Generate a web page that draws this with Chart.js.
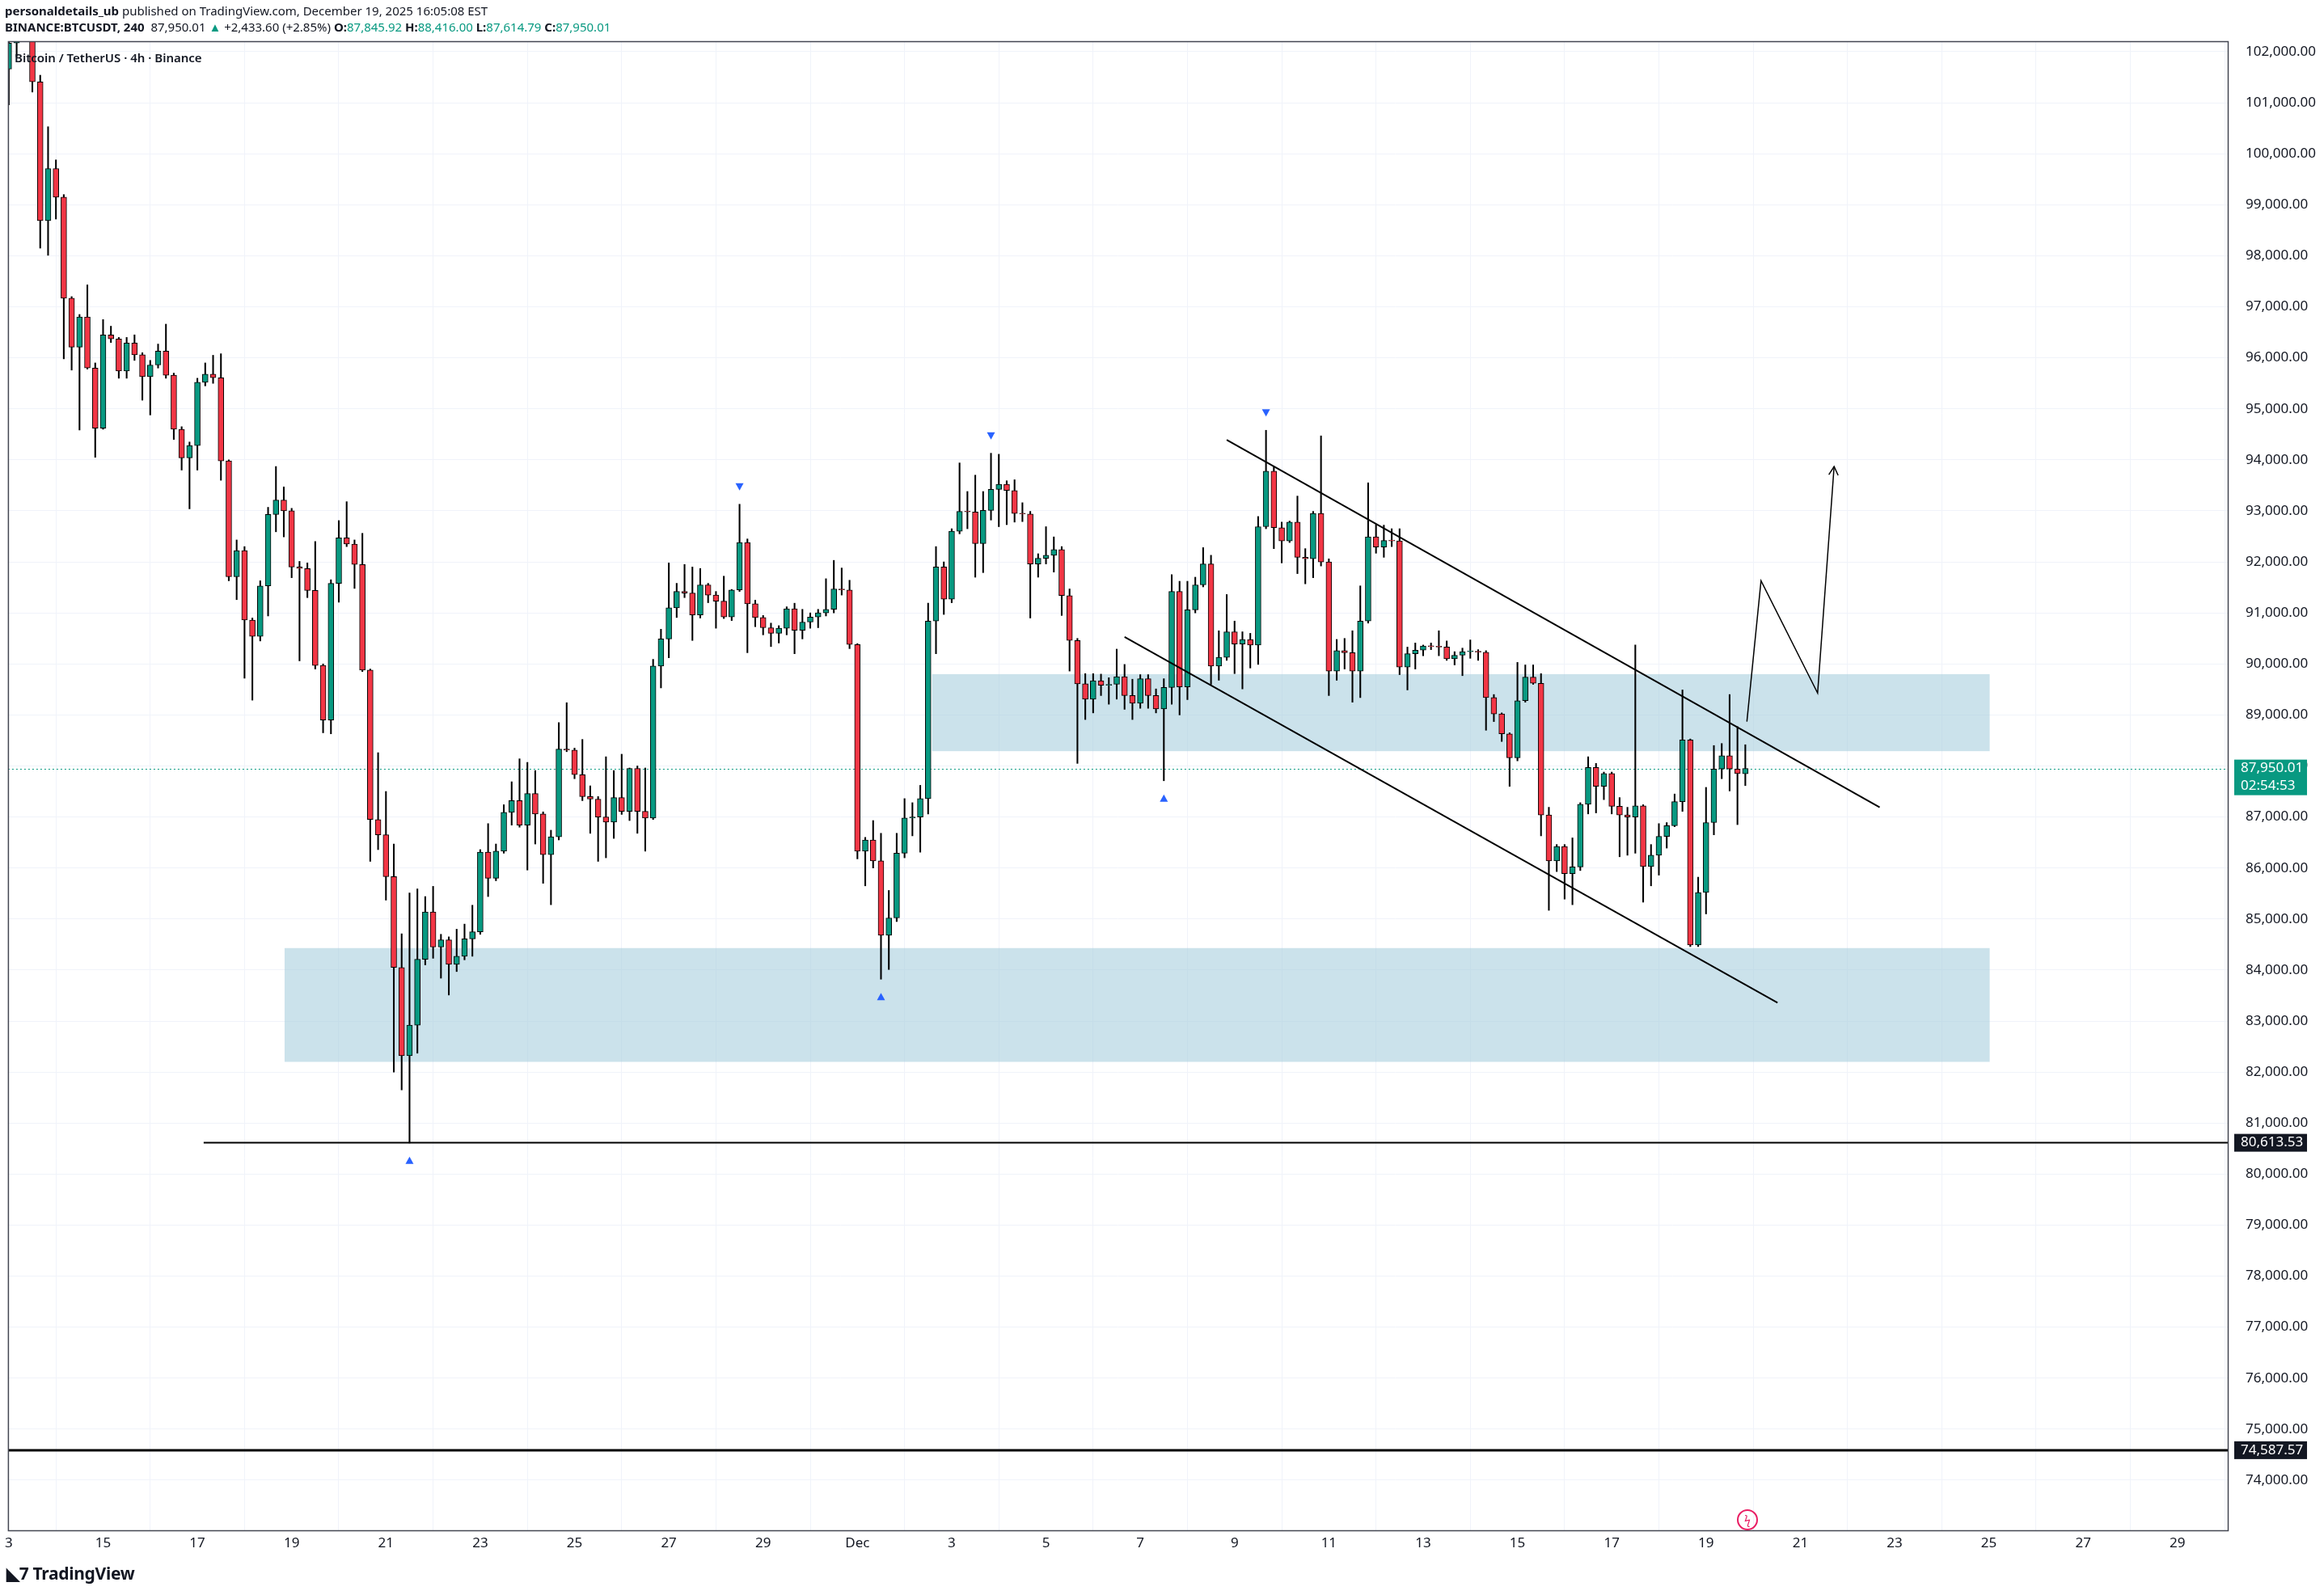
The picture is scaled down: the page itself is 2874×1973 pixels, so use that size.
<!DOCTYPE html>
<html>
<head>
<meta charset="utf-8">
<script src="https://cdn.jsdelivr.net/npm/chart.js@4.4.1/dist/chart.umd.min.js"></script>
<style>
body{margin:0;background:#fff;width:2874px;height:1973px;overflow:hidden;font-family:"Noto Sans",sans-serif;position:relative;color:#131722}
#c{position:absolute;left:0;top:0}
.t{position:absolute;white-space:nowrap;font-size:15px;line-height:20px}
b{font-weight:700}
.g{color:#089981}
</style>
</head>
<body>
<canvas id="c" width="2874" height="1973"></canvas>
<div class="t" style="left:6px;top:3px"><b>personaldetails_ub</b> published on TradingView.com, December 19, 2025 16:05:08 EST</div>
<div class="t" style="left:6px;top:23px"><b>BINANCE:BTCUSDT, 240</b>&nbsp; 87,950.01 <span class="g">▲</span> +2,433.60 (+2.85%) <b>O:</b><span class="g">87,845.92</span> <b>H:</b><span class="g">88,416.00</span> <b>L:</b><span class="g">87,614.79</span> <b>C:</b><span class="g">87,950.01</span></div>
<div class="t" style="left:18px;top:61px;font-size:15px;font-weight:600">Bitcoin / TetherUS · 4h · Binance</div>
<div class="t" style="left:8px;top:1936px;font-size:21px;font-weight:700;letter-spacing:-0.3px">◣7 TradingView</div>
<div class="t" style="left:2148px;top:1867px;width:22px;height:22px;border:2px solid #e91e63;border-radius:50%;font-size:14px;line-height:22px;text-align:center;color:#e91e63">ϟ</div>
<script>
// 4h candles from Nov 13 00:00, six per day
const opens = [
  101660,102170,102280,102700,101410,98690, 99710,99150,97170,96210,96800,95800,
  94620,96450,96370,95740,96290,96060, 95630,95860,96130,95660,94600,94040,
  94280,95520,95680,95610,93980,91710, 92220,90860,90540,91530,92930,93210,
  93000,91900,91870,91440,89970,88900, 91580,92470,92350,91950,89880,86950,
  86650,85830,84050,82320,82920,84210, 85140,84450,84590,84110,84270,84610,
  84750,86310,85800,86330,87090,87320, 86840,87460,87060,86260,86610,88330,
  88310,87830,87400,87350,87000,86900, 87380,87110,87950,87110,86980,89960,
  90490,91100,91420,91390,90960,91550, 91350,91230,90920,91450,92380,91180,
  90910,90710,90600,90700,91080,90660, 90820,90920,91000,91070,91470,91450,
  90380,86330,86550,86140,84680,85020, 86290,86980,87000,87360,90840,91900,
  91270,92600,92990,92980,92360,93010, 93420,93520,93400,92950,92940,91960,
  92070,92130,92240,91340,90460,89610, 89310,89670,89580,89600,89750,89380,
  89230,89710,89380,89120,89540,91420, 89550,91060,91550,91960,89960,90130,
  90630,90390,90480,90370,92690,93780, 92670,92410,92780,92090,92060,92950,
  92000,89860,90260,90220,89860,90840, 92490,92290,92420,92410,89940,90200,
  90270,90350,90340,90330,90100,90170, 90240,90250,90230,89340,89020,88630,
  88160,89280,89740,89620,87040,86140, 86420,85890,86020,87250,87970,87600,
  87850,87210,87040,87000,87220,86030, 86250,86620,86830,87300,88510,84490,
  85520,86890,87940,88200,87940,87845.92
];
const highs = [
  102300,102500,102900,102800,101540,100530, 99880,99200,97200,96850,97430,95900,
  96750,96620,96400,96400,96450,96100, 95950,96270,96660,95700,94650,94350,
  95600,95900,96050,96080,94000,92430, 92300,90900,91630,93070,93870,93470,
  93050,92010,91980,92400,90000,91650, 92810,93180,92430,92560,89900,88260,
  87500,86470,84710,85510,85590,85440, 85640,84700,84650,84800,84900,85270,
  86360,86870,86470,87240,87690,88140, 88070,87910,87100,86740,88850,89240,
  88350,88520,87610,87400,88180,87910, 88230,87960,88000,87960,90090,90680,
  91980,91580,91950,91900,91870,91580, 91420,91720,91460,93130,92450,91250,
  90950,90800,90750,91120,91190,91070, 91000,91070,91670,92030,91880,91640,
  90400,86600,86930,86680,85560,86680, 87360,87280,87620,91190,92300,92000,
  92650,93940,93380,93700,93380,94130, 94110,93590,93610,93160,92990,92160,
  92690,92490,92300,91470,90500,89810, 89810,89800,89730,90290,89990,89700,
  89790,89790,89510,89710,91750,91620, 91620,91700,92280,92130,90650,91360,
  90840,90630,90600,92890,94580,93870, 92780,92800,93290,92260,92990,94470,
  92060,90480,90500,90650,91530,93550, 92730,92720,92650,92650,90330,90410,
  90370,90410,90650,90450,90240,90310, 90470,90280,90260,89400,89040,88650,
  90030,89980,89980,89810,87190,86460, 86460,86590,87280,88180,88050,87880,
  87880,87380,87190,90370,87240,86460, 86870,86890,87450,89490,88530,85820,
  87580,88400,88440,89400,88770,88416
];
const lows = [
  100960,101900,102200,101210,98150,98010, 98720,95980,95760,94585,95780,94050,
  94600,96300,95600,95600,95950,95170, 94880,95800,95600,94400,93800,93040,
  93800,95450,95500,93600,91630,91260, 89720,89290,90450,90940,92590,92490,
  91690,90060,91300,89900,88650,88630, 91210,92300,91480,89850,86130,86360,
  85370,82000,81650,80610,82370,84100, 84230,83840,83510,83970,84200,84270,
  84700,85440,85750,86290,86840,86800, 85960,86470,85700,85280,86550,88280,
  87750,87320,86680,86130,86200,86580, 87050,86930,86680,86330,86950,89530,
  90120,90910,91300,90460,90900,91200, 90700,90890,90850,91420,90220,90730,
  90570,90340,90410,90570,90200,90490, 90700,90710,90940,91000,91350,90300,
  86180,85650,86000,83820,84010,84950, 86200,86630,86310,87060,90200,90970,
  91200,92550,92650,91700,91790,92820, 92690,92730,92780,92790,90900,91700,
  91960,91800,90950,89860,88050,88910, 89040,89380,89210,89310,89110,88910,
  89130,89130,89040,87710,89210,89000, 89300,91000,91510,89600,89680,90070,
  89810,89510,89920,89990,92650,92260, 91980,92380,91770,91570,91690,91920,
  89380,89680,89900,89250,89340,90800, 92170,92090,92300,89790,89490,89900,
  90160,90280,90160,90070,89980,89770, 90110,90070,88700,88870,88480,87600,
  88100,89250,89600,86630,85170,85930, 85390,85280,85950,87060,87080,87340,
  87060,86220,86250,86290,85330,85650, 85860,86390,86810,87110,84460,84460,
  85100,86650,87750,87510,86850,87614.79
];
const closes = [
  102170,102280,102700,101410,98690,99710, 99150,97170,96210,96800,95800,94620,
  96450,96370,95740,96290,96060,95630, 95860,96130,95660,94600,94040,94280,
  95520,95680,95610,93980,91710,92220, 90860,90540,91530,92930,93210,93000,
  91900,91870,91440,89970,88900,91580, 92470,92350,91950,89880,86950,86650,
  85830,84050,82320,82920,84210,85140, 84450,84590,84110,84270,84610,84750,
  86310,85800,86330,87090,87320,86840, 87460,87060,86260,86610,88330,88310,
  87830,87400,87350,87000,86900,87380, 87110,87950,87110,86980,89960,90490,
  91100,91420,91390,90960,91550,91350, 91230,90920,91450,92380,91180,90910,
  90710,90600,90700,91080,90660,90820, 90920,91000,91070,91470,91450,90380,
  86330,86550,86140,84680,85020,86290, 86980,87000,87360,90840,91900,91270,
  92600,92990,92980,92360,93010,93420, 93520,93400,92950,92940,91960,92070,
  92130,92240,91340,90460,89610,89310, 89670,89580,89600,89750,89380,89230,
  89710,89380,89120,89540,91420,89550, 91060,91550,91960,89960,90130,90630,
  90390,90480,90370,92690,93780,92670, 92410,92780,92090,92060,92950,92000,
  89860,90260,90220,89860,90840,92490, 92290,92420,92410,89940,90200,90270,
  90350,90340,90330,90100,90170,90240, 90250,90230,89340,89020,88630,88160,
  89280,89740,89620,87040,86140,86420, 85890,86020,87250,87970,87600,87850,
  87210,87040,87000,87220,86030,86250, 86620,86830,87300,88510,84490,85520,
  86890,87940,88200,87940,87850,87950.01
];

const yTicks = [74000,75000,76000,77000,78000,79000,80000,81000,82000,83000,84000,85000,86000,87000,
  88000,89000,90000,91000,92000,93000,94000,95000,96000,97000,98000,99000,100000,101000,102000];
const dayTicks = [0,12,24,36,48,60,72,84,96,108,120,132,144,156,168,180,192,204,216,228,240,252,264,276];
const dayLabels = ['3','15','17','19','21','23','25','27','29','Dec','3','5','7','9','11','13','15','17','19','21','23','25','27','29'];

// drawings (x in candle slots, y in price)
const zones = [[117.5, 252.1, 88290, 89800], [35.1, 252.1, 82200, 84430]];
const upperTrend = [[155.0, 94390], [238.1, 87190]];
const lowerTrend = [[142.0, 90530], [225.1, 83360]];
const projection = [[221.2, 88870], [223.0, 91630], [230.2, 89430], [232.3, 93870]];
const supportLevel = 80613.53, lowLevel = 74587.57, lastPrice = 87950.01;
const supportStart = 24.8;
const pivotHighs = [93, 125, 160];
const pivotLows = [51, 111, 147];

const GREEN = '#089981', RED = '#f23645';
const idx = opens.map((_, i) => i);
const bodyColors = idx.map(i => closes[i] >= opens[i] ? GREEN : RED);
const fmt = v => v.toLocaleString('en-US', {minimumFractionDigits: 2, maximumFractionDigits: 2});
const pts = a => a.map(p => ({x: p[0], y: p[1]}));

const overlay = {
  id: 'overlay',
  beforeDatasetsDraw(chart) {
    const {ctx, chartArea: a, scales: {x, y}} = chart;
    ctx.save();
    ctx.beginPath(); ctx.rect(a.left, a.top, a.width, a.height); ctx.clip();
    ctx.fillStyle = 'rgba(166,205,220,0.58)';
    zones.forEach(z => {
      const x0 = x.getPixelForValue(z[0]), x1 = x.getPixelForValue(z[1]);
      const y0 = y.getPixelForValue(z[3]), y1 = y.getPixelForValue(z[2]);
      ctx.fillRect(x0, y0, x1 - x0, y1 - y0);
    });
    // last price dotted
    ctx.strokeStyle = GREEN; ctx.lineWidth = 1; ctx.setLineDash([2, 3]);
    const yl = Math.round(y.getPixelForValue(lastPrice)) + 0.5;
    ctx.beginPath(); ctx.moveTo(a.left, yl); ctx.lineTo(a.right, yl); ctx.stroke();
    ctx.restore();
  },
  afterDatasetsDraw(chart) {
    const {ctx, chartArea: a, scales: {x, y}} = chart;
    ctx.save();
    ctx.beginPath(); ctx.rect(a.left, a.top, a.width, a.height); ctx.clip();
    ctx.strokeStyle = '#000';
    ctx.lineWidth = 2;
    let ys = y.getPixelForValue(supportLevel);
    ctx.beginPath(); ctx.moveTo(x.getPixelForValue(supportStart), ys); ctx.lineTo(a.right, ys); ctx.stroke();
    ctx.lineWidth = 3;
    ys = y.getPixelForValue(lowLevel);
    ctx.beginPath(); ctx.moveTo(a.left, ys); ctx.lineTo(a.right, ys); ctx.stroke();
    // arrow head on projection
    const n = projection.length;
    const px = x.getPixelForValue(projection[n - 1][0]), py = y.getPixelForValue(projection[n - 1][1]);
    const qx = x.getPixelForValue(projection[n - 2][0]), qy = y.getPixelForValue(projection[n - 2][1]);
    const ang = Math.atan2(py - qy, px - qx);
    ctx.lineWidth = 1.5;
    ctx.beginPath();
    ctx.moveTo(px - 12 * Math.cos(ang - 0.5), py - 12 * Math.sin(ang - 0.5));
    ctx.lineTo(px, py);
    ctx.lineTo(px - 12 * Math.cos(ang + 0.5), py - 12 * Math.sin(ang + 0.5));
    ctx.stroke();
    // pivot markers
    ctx.fillStyle = '#2962ff';
    const tri = (cx, cy, down) => {
      ctx.beginPath();
      if (down) { ctx.moveTo(cx - 5, cy - 4); ctx.lineTo(cx + 5, cy - 4); ctx.lineTo(cx, cy + 5); }
      else { ctx.moveTo(cx - 5, cy + 4); ctx.lineTo(cx + 5, cy + 4); ctx.lineTo(cx, cy - 5); }
      ctx.fill();
    };
    pivotHighs.forEach(i => tri(x.getPixelForValue(i), y.getPixelForValue(highs[i]) - 22, true));
    pivotLows.forEach(i => tri(x.getPixelForValue(i), y.getPixelForValue(lows[i]) + 22, false));
    ctx.restore();
  },
  afterDraw(chart) {
    const {ctx, chartArea: a, scales: {y}} = chart;
    ctx.save();
    ctx.strokeStyle = '#434651'; ctx.lineWidth = 1.5;
    ctx.strokeRect(a.left + 0.5, a.top + 0.5, a.width, a.height);
    ctx.font = '17px "Noto Sans"';
    ctx.textBaseline = 'middle';
    const box = (price, bg, lines) => {
      const cy = y.getPixelForValue(price);
      const h = 22 * lines.length;
      ctx.fillStyle = bg;
      ctx.fillRect(a.right + 8, cy - 11, 90, h);
      ctx.fillStyle = '#fff';
      lines.forEach((t, k) => ctx.fillText(t, a.right + 16, cy + k * 22));
    };
    box(lastPrice, GREEN, [fmt(lastPrice), '02:54:53']);
    box(supportLevel, '#131722', [fmt(supportLevel)]);
    box(lowLevel, '#131722', [fmt(lowLevel)]);
    ctx.restore();
  }
};

new Chart(document.getElementById('c'), {
  type: 'bar',
  data: {
    datasets: [
      {
        label: 'bodies', order: 1, grouped: false,
        data: idx.map(i => ({x: i, y: [opens[i], closes[i]]})),
        backgroundColor: bodyColors, borderColor: '#000', borderWidth: 1,
        borderSkipped: false, barThickness: 7, minBarLength: 1
      },
      {
        label: 'wicks', order: 2, grouped: false,
        data: idx.map(i => ({x: i, y: [lows[i], highs[i]]})),
        backgroundColor: '#000', barThickness: 1.4
      },
      {type: 'line', order: 0, data: pts(upperTrend), borderColor: '#000', borderWidth: 2, pointRadius: 0},
      {type: 'line', order: 0, data: pts(lowerTrend), borderColor: '#000', borderWidth: 2, pointRadius: 0},
      {type: 'line', order: 0, data: pts(projection), borderColor: '#000', borderWidth: 1.5, pointRadius: 0, tension: 0}
    ]
  },
  options: {
    responsive: false, animation: false, devicePixelRatio: 1,
    layout: {padding: {top: 51, left: 7}},
    plugins: {legend: {display: false}, tooltip: {enabled: false}},
    scales: {
      x: {
        type: 'linear', min: -0.1, max: 282.4, offset: false,
        afterBuildTicks: s => { s.ticks = dayTicks.map(v => ({value: v})); },
        afterFit: s => { s.height = 80; },
        ticks: {
          color: '#131722', font: {size: 17, family: 'Noto Sans'}, padding: 6, maxRotation: 0, autoSkip: false,
          callback: v => dayLabels[dayTicks.indexOf(v)],
        },
        grid: {color: '#f0f3fa', drawTicks: false},
        border: {display: false}
      },
      y: {
        position: 'right', min: 73017, max: 102206,
        afterBuildTicks: s => { s.ticks = yTicks.map(v => ({value: v})); },
        afterFit: s => { s.width = 119; },
        ticks: {color: '#131722', font: {size: 17, family: 'Noto Sans'}, padding: 22, callback: v => fmt(v)},
        grid: {color: '#f0f3fa', drawTicks: false},
        border: {display: false}
      }
    }
  },
  plugins: [overlay]
});
</script>
</body>
</html>
